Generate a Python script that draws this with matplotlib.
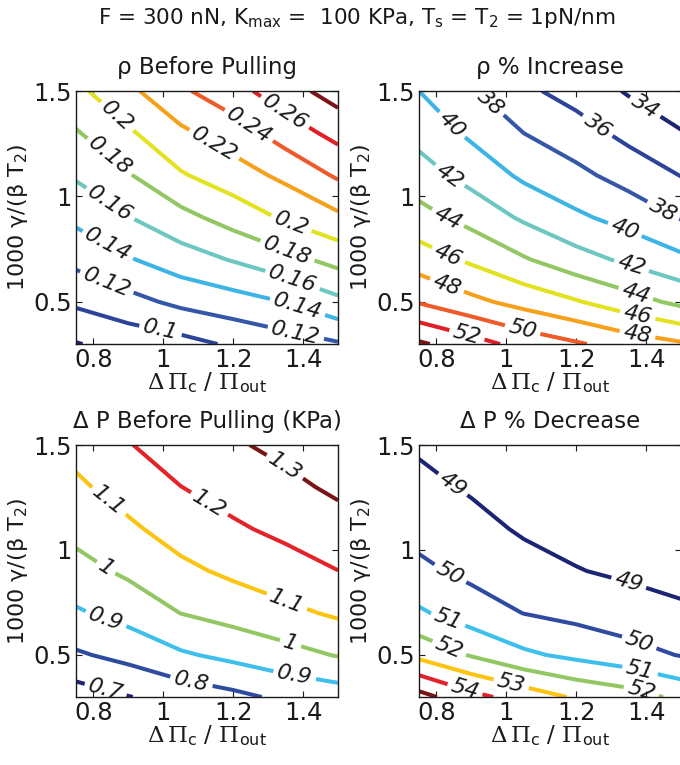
import numpy as np
import matplotlib
matplotlib.use("Agg")
import matplotlib.pyplot as plt
from matplotlib.ticker import FormatStrFormatter

# grid of the parameter sweep
xs = [0.75, 0.9, 1.05, 1.2, 1.35, 1.5]          # delta Pi_c / Pi_out
ys = [0.3, 0.5, 0.7, 0.9, 1.1, 1.3, 1.5]        # 1000 gamma / (beta T2)

# rho before pulling (rows follow ys, columns follow xs)
rho_before = [
    [0.079, 0.087, 0.093, 0.103, 0.1106, 0.118],
    [0.1035, 0.1135, 0.1247, 0.1318, 0.1405, 0.1553],
    [0.1252, 0.1382, 0.1507, 0.1613, 0.1734, 0.1865],
    [0.1446, 0.1593, 0.1738, 0.1882, 0.2028, 0.2161],
    [0.1624, 0.1784, 0.198, 0.2108, 0.2246, 0.2427],
    [0.1782, 0.197, 0.216, 0.230, 0.2492, 0.2664],
    [0.195, 0.2154, 0.2367, 0.2528, 0.2718, 0.289],
]
rho_levels = [0.08, 0.10, 0.12, 0.14, 0.16, 0.18, 0.20, 0.22, 0.24, 0.26, 0.28]

# rho % increase
rho_incr = [
    [54.3, 52.84, 51.3, 50.23, 49.1, 48.25],
    [49.85, 48.5, 47.3, 46.16, 44.83, 43.51],
    [47.0, 45.67, 44.2, 42.77, 41.62, 40.45],
    [44.72, 43.33, 41.7, 40.36, 39.26, 37.88],
    [42.88, 41.31, 39.63, 38.5, 37.23, 35.95],
    [41.35, 39.63, 38.0, 36.87, 35.45, 34.14],
    [40.0, 38.2, 36.4, 35.24, 33.8, 32.5],
]
incr_levels = [34, 36, 38, 40, 42, 44, 46, 48, 50, 52, 54]

# delta P before pulling (KPa)
dp_before = [
    [0.649, 0.6965, 0.739, 0.775, 0.821, 0.846],
    [0.787, 0.830, 0.887, 0.926, 0.965, 1.006],
    [0.888, 0.935, 1.0015, 1.037, 1.076, 1.115],
    [0.965, 1.018, 1.077, 1.12, 1.158, 1.199],
    [1.029, 1.083, 1.141, 1.186, 1.223, 1.259],
    [1.083, 1.14, 1.199, 1.238, 1.275, 1.319],
    [1.131, 1.195, 1.249, 1.288, 1.326, 1.376],
]
dp_levels = [0.7, 0.8, 0.9, 1.0, 1.1, 1.2, 1.3]

# delta P % decrease
dp_decr = [
    [55.36, 54.3, 53.58, 52.87, 52.46, 51.76],
    [52.74, 51.92, 51.18, 50.76, 50.37, 49.95],
    [51.14, 50.49, 49.98, 49.72, 49.44, 49.16],
    [50.22, 49.76, 49.38, 49.04, 48.84, 48.68],
    [49.68, 49.31, 48.88, 48.69, 48.55, 48.42],
    [49.26, 48.89, 48.6, 48.45, 48.33, 48.22],
    [48.87, 48.57, 48.33, 48.22, 48.12, 48.03],
]
decr_levels = [49, 50, 51, 52, 53, 54, 55]

# printed-jet palettes
jet11 = ['#1d2473', '#2c4399', '#3557a8', '#3cb4e5', '#6cc7c0', '#93c763',
         '#e2e21f', '#f6a01b', '#ee5a28', '#e01f26', '#7b1416']
jet7 = ['#1d2473', '#2f4b9f', '#3fbfeb', '#93c763', '#fbc40e', '#e2232a', '#7b1416']

# where the inline labels sit
rho_lab = [(0.862, 1.37), (1.363, 0.857), (0.838, 1.173), (1.349, 0.714),
           (0.833, 0.928), (1.363, 0.572), (0.833, 0.746), (1.378, 0.445),
           (0.833, 0.572), (1.378, 0.343), (0.99, 0.351), (1.139, 1.228),
           (1.239, 1.323), (1.349, 1.402)]
incr_lab = [(0.949, 1.434), (1.447, 0.928), (1.395, 1.418), (1.256, 1.323),
            (0.834, 1.323), (1.337, 0.833), (0.83, 1.078), (1.356, 0.659),
            (0.825, 0.872), (1.366, 0.517), (0.825, 0.69), (1.375, 0.43),
            (0.825, 0.556), (1.375, 0.343), (1.045, 0.358), (0.887, 0.343)]
dp_lab = [(1.347, 1.394), (1.126, 1.204), (0.833, 1.211), (1.351, 0.744),
          (0.824, 0.886), (1.361, 0.538), (0.829, 0.641), (1.375, 0.395),
          (1.078, 0.355), (0.833, 0.324)]
decr_lab = [(0.834, 1.285), (1.346, 0.822), (0.829, 0.854), (1.375, 0.535),
            (0.825, 0.631), (1.38, 0.407), (0.829, 0.503), (1.384, 0.312),
            (1.011, 0.344), (0.877, 0.312)]

panels = [
    (rho_before, rho_levels, jet11, rho_lab, "ρ Before Pulling"),
    (rho_incr, incr_levels, jet11, incr_lab, "ρ % Increase"),
    (dp_before, dp_levels, jet7, dp_lab, "Δ P Before Pulling (KPa)"),
    (dp_decr, decr_levels, jet7, decr_lab, "Δ P % Decrease"),
]

plt.rcParams['font.family'] = ['DejaVu Sans']
plt.rcParams['xtick.direction'] = 'in'
plt.rcParams['ytick.direction'] = 'in'
plt.rcParams['xtick.top'] = True
plt.rcParams['ytick.right'] = True

fig = plt.figure(figsize=(6.8, 7.65), dpi=100)
rects = [
    [0.1118, 0.5503, 0.3853, 0.3307],
    [0.6162, 0.5503, 0.3853, 0.3307],
    [0.1118, 0.0889, 0.3853, 0.3294],
    [0.6162, 0.0889, 0.3853, 0.3294],
]

X, Y = np.meshgrid(xs, ys)
ink = '#1a1a1a'

for rect, (z, levels, colors, lab_pos, title) in zip(rects, panels):
    ax = fig.add_axes(rect)
    cs = ax.contour(X, Y, np.array(z), levels=levels, colors=colors,
                    linewidths=2.9)
    texts = ax.clabel(cs, inline=True, fontsize=16, fmt='%g',
                      manual=lab_pos, inline_spacing=4)
    for t in texts:
        t.set_fontstyle('italic')
        t.set_color(ink)
    ax.set_xlim(0.75, 1.5)
    ax.set_ylim(0.3, 1.5)
    ax.set_xticks([0.8, 1.0, 1.2, 1.4])
    ax.set_yticks([0.5, 1.0, 1.5])
    ax.xaxis.set_major_formatter(FormatStrFormatter('%g'))
    ax.yaxis.set_major_formatter(FormatStrFormatter('%g'))
    ax.tick_params(labelsize=17.5, length=4, width=0.8, pad=3, colors=ink)
    for sp in ax.spines.values():
        sp.set_linewidth(1.0)
        sp.set_color(ink)
    ax.set_title(title, fontsize=16.5, pad=12, color=ink)
    ax.set_xlabel(r'$\Delta\,\Pi_{\mathsf{c}}$ / $\Pi_{\mathsf{out}}$',
                  fontsize=16.5, labelpad=-1, math_fontfamily='dejavuserif',
                  color=ink)
    ax.set_ylabel(r'1000 γ/(β T$_{2}$)', fontsize=16, labelpad=2,
                  color=ink)

fig.text(0.524, 0.976,
         r'F = 300 nN, K$_{\mathsf{max}}$ =  100 KPa, T$_{\mathsf{s}}$ = T$_{\mathsf{2}}$ = 1pN/nm',
         ha='center', va='center', fontsize=15.5, color=ink)

fig.savefig("out.png", dpi=100)
